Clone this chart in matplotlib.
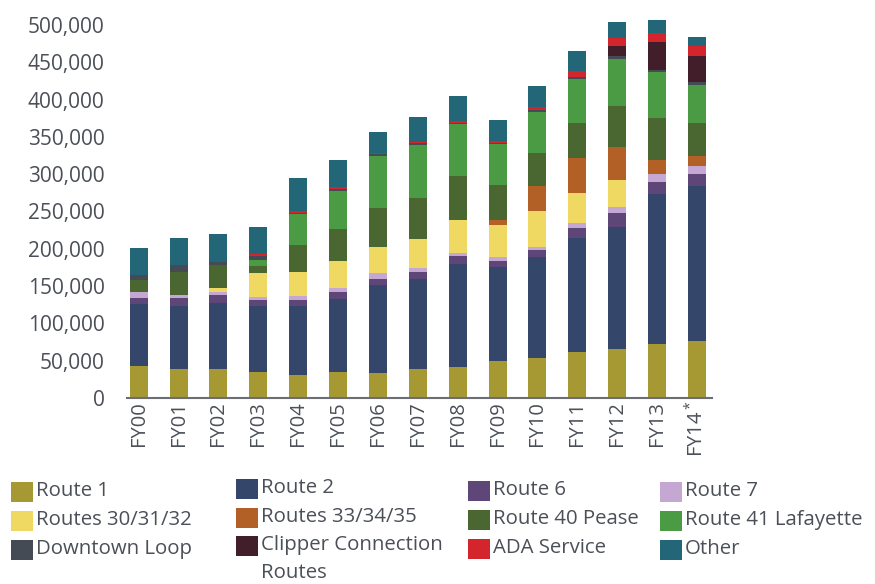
import numpy as np
import matplotlib
matplotlib.use("Agg")
import matplotlib.pyplot as plt
from matplotlib.patches import Rectangle

plt.rcParams["font.family"] = ["Open Sans", "DejaVu Sans"]
plt.rcParams["mathtext.default"] = "regular"

years = ["FY00", "FY01", "FY02", "FY03", "FY04", "FY05", "FY06", "FY07",
         "FY08", "FY09", "FY10", "FY11", "FY12", "FY13", "FY14$^*$"]

# ridership per route (thousands)
route1 = [43, 39, 39, 35, 31, 35, 34, 39, 42, 50, 54, 62, 66, 72, 76]
route2 = [83, 84, 88, 88, 92, 98, 118, 121, 137, 125, 135, 153, 163, 202, 208]
route6 = [8, 11, 11, 9, 9, 9, 7, 9, 11, 9, 9, 13, 19, 15, 16]
route7 = [8, 4, 4, 4, 5, 6, 8, 5, 5, 5, 5, 7, 8, 11, 11]
routes30 = [0, 0, 5.5, 32, 32, 36, 36, 39, 44, 43, 47, 40, 36, 0, 0]
routes33 = [0, 0, 0, 0, 0, 0, 0, 0, 0, 7, 34, 47, 44, 19, 13]
route40 = [16, 31, 31, 9, 36, 43, 51, 55, 58, 46, 44, 47, 56, 56, 44]
route41 = [0, 0, 0, 8, 42, 51, 71, 71, 70, 55, 55, 58, 63, 62, 51]
downtown = [6.5, 9, 4, 5.5, 1.3, 2.7, 2.6, 2.3, 2.2, 2.3, 3.6, 2.7, 4, 2.7, 4]
clipper = [0, 0, 0, 0, 0, 0, 0, 0, 0, 0, 0, 0, 13, 37.5, 35]
ada = [0, 0, 0, 2.7, 2.7, 2.6, 1.4, 1.8, 2.2, 1.8, 3.1, 8, 10.7, 12, 13.4]
other = [36, 36, 37.5, 36, 44, 36, 28, 33.5, 33, 28, 28, 27, 21.5, 17.4, 12]

series = [
    ("Route 1", route1, "#A69933"),
    ("Route 2", route2, "#34476B"),
    ("Route 6", route6, "#5F4679"),
    ("Route 7", route7, "#C4A7D2"),
    ("Routes 30/31/32", routes30, "#EFD963"),
    ("Routes 33/34/35", routes33, "#B36026"),
    ("Route 40 Pease", route40, "#4B6731"),
    ("Route 41 Lafayette", route41, "#4A9B44"),
    ("Downtown Loop", downtown, "#454B55"),
    ("Clipper Connection\nRoutes", clipper, "#421E2B"),
    ("ADA Service", ada, "#D4252D"),
    ("Other", other, "#226677"),
]

W, H = 875, 584
fig = plt.figure(figsize=(W / 100, H / 100), dpi=100)
ax = fig.add_axes([126.7 / W, (H - 398) / H, 585 / W, 388 / H])

x = np.arange(len(years))
bottom = np.zeros(len(years))
for name, vals, col in series:
    v = np.array(vals) * 1000
    ax.bar(x, v, 0.45, bottom=bottom, color=col, label=name, linewidth=0)
    bottom += v

txt = "#4B4F57"
ax.set_xlim(-0.3, 14.37)
ax.set_ylim(0, 520000)
ax.set_yticks(np.arange(0, 500001, 50000))
ax.set_yticklabels([f"{v:,}" for v in range(0, 500001, 50000)])
ax.set_xticks(x)
ax.set_xticklabels(years, rotation=90)
ax.tick_params(axis="y", length=0, pad=16, labelsize=15, labelcolor=txt)
ax.tick_params(axis="x", length=0, pad=2, labelsize=14.5, labelcolor=txt)
for s in ["top", "right", "left"]:
    ax.spines[s].set_visible(False)
ax.spines["bottom"].set_color("#6D6E71")
ax.spines["bottom"].set_linewidth(1.5)

# legend drawn by hand, 4 columns filled row by row
col_x = [11, 236, 468, 660]
row_y = [[492, 520.7, 550], [489, 518, 546], [491, 520, 549], [492, 521, 550]]
for i, (name, vals, col) in enumerate(series):
    r, c = divmod(i, 4)
    cx, cy = col_x[c], row_y[c][r]
    fig.add_artist(Rectangle((cx / W, 1 - (cy + 10) / H), 22 / W, 20 / H,
                             transform=fig.transFigure, color=col, lw=0))
    lines = name.split("\n")
    for k, line in enumerate(lines):
        fig.text((cx + 25) / W, 1 - (cy - 1 + k * 28) / H, line, fontsize=14.7,
                 color=txt, va="center", ha="left")

fig.savefig("out.png", dpi=100)
